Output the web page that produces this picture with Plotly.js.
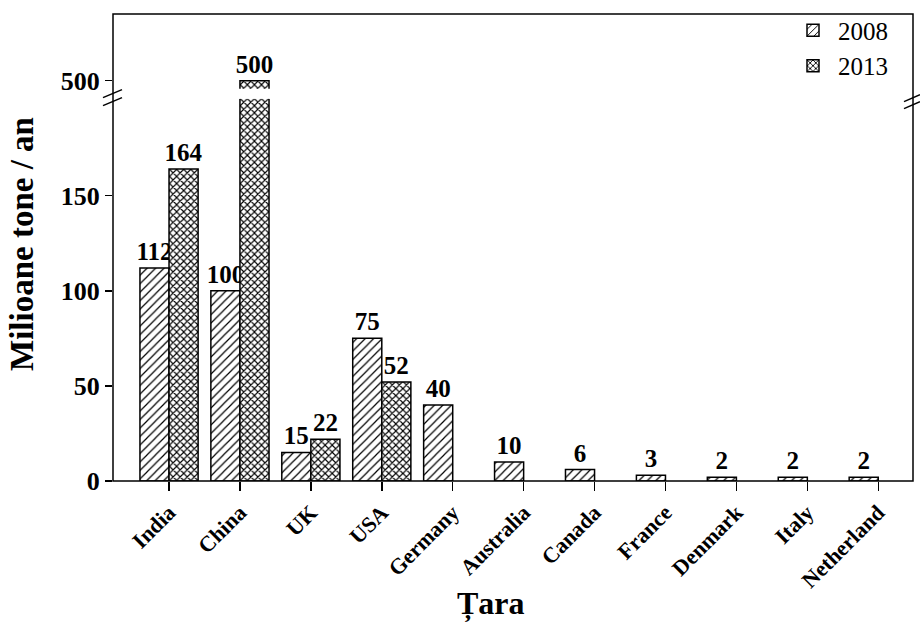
<!DOCTYPE html>
<html>
<head>
<meta charset="utf-8">
<script src="https://cdn.plot.ly/plotly-3.0.1.min.js"></script>
<style>html,body{margin:0;padding:0;background:#fff;}#chart{width:920px;height:623px;}</style>
</head>
<body>
<div id="chart"></div>
<script>
const countries = ["India","China","UK","USA","Germany","Australia","Canada","France","Denmark","Italy","Netherland"];
const values2008 = [112,100,15,75,40,10,6,3,2,2,2];
const values2013 = [164,500,22,52,null,null,null,null,null,null,null];
const seriesNames = ["2008","2013"];
const yTicksLower = [0,50,100,150];
const yTicksUpper = [500];
const lowerMax = 201;
const xTitle = "Țara";
const yTitle = "Milioane tone / an";

const serif = "Liberation Serif, Times New Roman, serif";
const labelFont = {family: serif, size: 25, color: "#000", weight: 700};
const barW = 0.41;

function lbl(arr, keep){ return arr.map(v => (v === null || !keep(v)) ? "" : String(v)); }

const t2008 = {
  type: "bar", name: seriesNames[0], x: countries, y: values2008,
  xaxis: "x", yaxis: "y",
  width: barW, offset: -barW,
  text: lbl(values2008, v => v <= lowerMax), textposition: "outside", textfont: labelFont,
  constraintext: "none", cliponaxis: false,
  marker: {color: "white", line: {color: "#000", width: 1.5},
           pattern: {shape: "/", fgcolor: "#000", bgcolor: "white", size: 6, solidity: 0.2}},
  hoverinfo: "x+y"
};
const t2013 = {
  type: "bar", name: seriesNames[1], x: countries, y: values2013,
  xaxis: "x", yaxis: "y",
  width: barW, offset: 0,
  text: lbl(values2013, v => v <= lowerMax), textposition: "outside", textfont: labelFont,
  constraintext: "none", cliponaxis: true,
  marker: {color: "white", line: {color: "#000", width: 1.5},
           pattern: {shape: "x", fgcolor: "#000", bgcolor: "white", size: 5, solidity: 0.4}},
  hoverinfo: "x+y"
};
const upper2013 = values2013.map(v => (v !== null && v > lowerMax) ? v : null);
const t2013up = {
  type: "bar", name: seriesNames[1], x: countries, y: upper2013,
  xaxis: "x", yaxis: "y2", showlegend: false,
  width: barW, offset: 0,
  text: lbl(upper2013, v => true), textposition: "outside", textfont: labelFont,
  constraintext: "none", cliponaxis: false,
  marker: {color: "white", line: {color: "#000", width: 1.5},
           pattern: {shape: "x", fgcolor: "#000", bgcolor: "white", size: 5, solidity: 0.4}},
  hoverinfo: "x+y"
};

// paper coords helpers for decorations
const L = 113, R = 913, T = 12, B = 481;
const px = x => (x - L) / (R - L);
const py = y => (B - y) / (B - T);

const layout = {
  width: 920, height: 623,
  margin: {l: L, r: 920 - R, t: T, b: 623 - B, pad: 0},
  paper_bgcolor: "white", plot_bgcolor: "white",
  barmode: "overlay",
  showlegend: true,
  legend: {x: 0.975, xanchor: "right", y: 1.014, yanchor: "top", bgcolor: "rgba(0,0,0,0)",
           font: {family: serif, size: 25, color: "#000"}, tracegroupgap: 0, itemwidth: 40},
  xaxis: {
    type: "category", categoryorder: "array", categoryarray: countries,
    range: [-0.79, 10.49], showline: false, showgrid: false, zeroline: false,
    ticks: "outside", ticklen: 9, tickwidth: 1.5, tickcolor: "#000",
    tickangle: -45, tickfont: {family: serif, size: 22, color: "#000", weight: 700},
    fixedrange: true
  },
  yaxis: {
    domain: [0, py(97)], range: [0, lowerMax],
    tickvals: yTicksLower, ticktext: yTicksLower.map(String),
    showline: false, showgrid: false, zeroline: false,
    ticks: "outside", ticklen: 7, tickwidth: 1.5, tickcolor: "#000",
    tickfont: {family: serif, size: 26, color: "#000", weight: 700},
    fixedrange: true
  },
  yaxis2: {
    domain: [py(87), 1], range: [495.8, 535],
    tickvals: yTicksUpper, ticktext: yTicksUpper.map(String),
    showline: false, showgrid: false, zeroline: false,
    ticks: "outside", ticklen: 7, tickwidth: 1.5, tickcolor: "#000",
    tickfont: {family: serif, size: 26, color: "#000", weight: 700},
    fixedrange: true
  },
  annotations: [
    {text: yTitle, xref: "paper", yref: "paper", x: px(22), y: py(243), xanchor: "center", yanchor: "middle",
     textangle: -90, showarrow: false, font: {family: serif, size: 33, color: "#000", weight: 700}},
    {text: xTitle, xref: "paper", yref: "paper", x: px(491), y: py(604), xanchor: "center", yanchor: "middle",
     showarrow: false, font: {family: serif, size: 32, color: "#000", weight: 700}}
  ],
  shapes: [
    {type: "rect", xref: "paper", yref: "paper", x0: 0, x1: 1, y0: 0, y1: 1,
     line: {color: "#000", width: 1.5}, fillcolor: "rgba(0,0,0,0)", layer: "above"},
    {type: "line", xref: "paper", yref: "paper", x0: px(103), y0: py(96), x1: px(122), y1: py(88), line: {color: "#000", width: 1.5}},
    {type: "line", xref: "paper", yref: "paper", x0: px(103), y0: py(104), x1: px(122), y1: py(96), line: {color: "#000", width: 1.5}},
    {type: "line", xref: "paper", yref: "paper", x0: px(904), y0: py(100), x1: px(920), y1: py(93), line: {color: "#000", width: 1.5}},
    {type: "line", xref: "paper", yref: "paper", x0: px(904), y0: py(107), x1: px(920), y1: py(100), line: {color: "#000", width: 1.5}}
  ]
};

Plotly.newPlot("chart", [t2008, t2013, t2013up], layout, {displayModeBar: false, staticPlot: true});
</script>
</body>
</html>
